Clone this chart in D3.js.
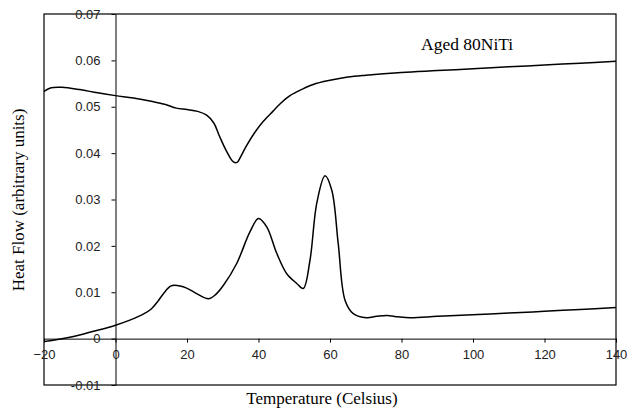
<!DOCTYPE html>
<html><head><meta charset="utf-8">
<script src="https://cdn.jsdelivr.net/npm/d3@7"></script>
<style>body{margin:0;background:#fff}svg{display:block}</style>
</head><body>
<svg id="c" width="627" height="418"></svg>
<script>
const upperT = [-20,-18,-15,-10,-5,0,5,10,14,17,20,23,25.5,27.5,29,31,33,34,35,36.5,39,41.3,44,46,48.8,52,55.3,60,65,70,80,90,100,110,120,130,140];
const upperV = [0.0533,0.0541,0.0542,0.0537,0.0530,0.0524,0.0519,0.0512,0.0505,0.0497,0.0494,0.0490,0.0482,0.0465,0.0438,0.0405,0.0381,0.0380,0.0392,0.0414,0.0445,0.0468,0.0490,0.0506,0.0524,0.0537,0.0548,0.0557,0.0564,0.0568,0.0574,0.0578,0.0582,0.0586,0.0590,0.0594,0.0598];
const lowerT = [-20,-17,-13.5,-10,-5,0,4,8,10,11.7,13.5,15.4,16.5,19.9,22.7,26,28,30.2,33.9,37.6,40,42.3,45.1,47.9,50.7,52.5,54.4,56.3,58.6,60.5,62.3,64.2,66.5,70.2,73,75.9,79,82.4,90,98.2,110,120,130,140];
const lowerV = [-0.0006,-0.0003,0.0002,0.0008,0.0018,0.0029,0.0040,0.0054,0.0064,0.0079,0.0098,0.0113,0.0115,0.0109,0.0097,0.0086,0.0095,0.0115,0.0162,0.0230,0.0259,0.0241,0.0184,0.0140,0.0119,0.0108,0.0169,0.0292,0.0351,0.0320,0.0205,0.0083,0.0054,0.0045,0.0048,0.0050,0.0047,0.0045,0.0048,0.0051,0.0055,0.0059,0.0063,0.0067];
const xTicks = [-20,0,20,40,60,80,100,120,140];
const yTicks = [-0.01,0,0.01,0.02,0.03,0.04,0.05,0.06,0.07];
const yTickLabels = ["-0.01","0","0.01","0.02","0.03","0.04","0.05","0.06","0.07"];
const chartTitle = "Aged 80NiTi";
const xTitle = "Temperature (Celsius)";
const yTitle = "Heat Flow (arbitrary units)";

const svg = d3.select("#c");
const L = 44, R = 616, T = 14, B = 385;
const x = d3.scaleLinear().domain([-20,140]).range([L,R]);
const y = d3.scaleLinear().domain([-0.01,0.07]).range([B,T]);

svg.append("rect").attr("x",L).attr("y",T).attr("width",R-L).attr("height",B-T)
  .attr("fill","none").attr("stroke","#000").attr("stroke-width",1.2);

const xAxis = d3.axisBottom(x).tickValues(xTicks).tickSize(4).tickSizeOuter(0).tickFormat(d3.format("d"));
const gx = svg.append("g").attr("transform",`translate(0,${y(0)})`).call(xAxis);
gx.select(".domain").attr("stroke","#000").attr("stroke-width",1);
gx.selectAll(".tick text").attr("font-family","Liberation Sans, Arial, sans-serif").attr("font-size",13).attr("fill","#222").attr("dy","1.05em");

const yAxis = d3.axisLeft(y).tickValues(yTicks).tickSize(4).tickSizeOuter(0).tickFormat((d,i)=>yTickLabels[i]);
const gy = svg.append("g").attr("transform",`translate(${x(0)},0)`).call(yAxis);
gy.select(".domain").attr("stroke","#000").attr("stroke-width",1);
gy.selectAll(".tick text").attr("font-family","Liberation Sans, Arial, sans-serif").attr("font-size",13).attr("fill","#222").attr("x",-15);

const line = d3.line().x(d=>x(d[0])).y(d=>y(d[1])).curve(d3.curveCatmullRom.alpha(0.5));
const up = upperT.map((t,i)=>[t,upperV[i]]);
const lo = lowerT.map((t,i)=>[t,lowerV[i]]);
svg.append("path").attr("d",line(up)).attr("fill","none").attr("stroke","#000").attr("stroke-width",1.5);
svg.append("path").attr("d",line(lo)).attr("fill","none").attr("stroke","#000").attr("stroke-width",1.5);

svg.append("text").attr("x",421).attr("y",50).attr("font-family","Liberation Serif, Times New Roman, serif")
  .attr("font-size",17.5).text(chartTitle);
svg.append("text").attr("x",322).attr("y",404).attr("text-anchor","middle").attr("font-family","Liberation Serif, Times New Roman, serif")
  .attr("font-size",17).text(xTitle);
svg.append("text").attr("transform","translate(24,200) rotate(-90)").attr("text-anchor","middle").attr("font-family","Liberation Serif, Times New Roman, serif")
  .attr("font-size",17).text(yTitle);
</script>
</body></html>
